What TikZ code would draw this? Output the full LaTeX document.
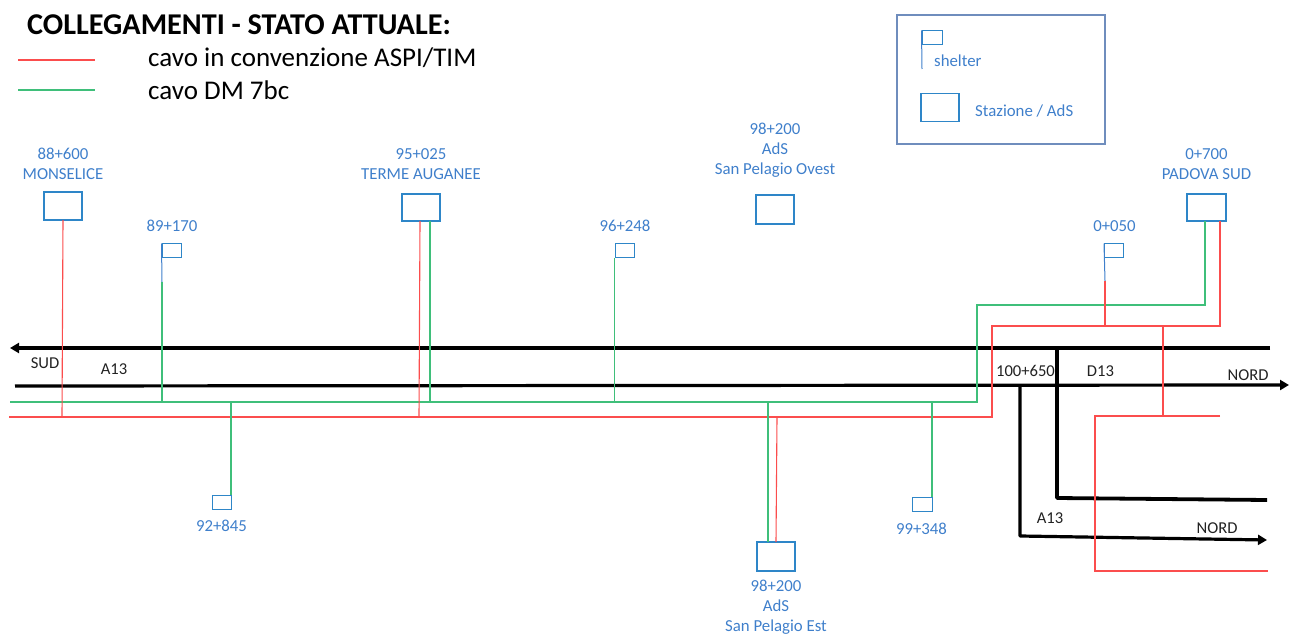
\documentclass[tikz,border=0pt]{standalone}
\usepackage{fontspec}
\setmainfont{Carlito}
\usetikzlibrary{arrows.meta}
\definecolor{bl}{HTML}{2E86C8}
\definecolor{lb}{HTML}{3F7FCB}
\definecolor{rd}{HTML}{FB4D4D}
\definecolor{gr}{HTML}{3FBF7A}
\definecolor{fr}{HTML}{6F8DBD}
\definecolor{tx}{HTML}{222222}
\tikzset{
 stbox/.style={draw=bl,line width=1.1pt,fill=white,inner sep=0pt,minimum width=38pt,minimum height=28pt},
 flagbox/.style={draw=bl,line width=1pt,fill=white,inner sep=0pt,minimum width=19pt,minimum height=14pt},
 lab/.style={text=lb,font=\fontsize{16.8}{20}\selectfont,align=center,inner sep=0pt},
 blk/.style={text=tx,font=\fontsize{16.6}{16}\selectfont,inner sep=0pt},
 leg/.style={text=black,font=\fontsize{27}{28}\selectfont,inner sep=0pt,anchor=west},
 redl/.style={draw=rd,line width=1.1pt},
 grnl/.style={draw=gr,line width=1.1pt},
 road/.style={draw=black,line width=3.2pt},
 pole/.style={draw=lb,line width=1pt},
 tip/.style={-{Triangle[length=9pt,width=10pt]}}
}
\begin{document}
\begin{tikzpicture}[x=1pt,y=-1pt]
\useasboundingbox (0,0) rectangle (1290,636);
% title and legend
\node[anchor=west,inner sep=0pt,font=\fontsize{30.2}{32}\bfseries\selectfont] (title) at (27,25) {COLLEGAMENTI - STATO ATTUALE:};
\coordinate (la) at (18,60); \coordinate (lb) at (95,60);
\coordinate (lc) at (18,90); \coordinate (ld) at (95,90);
\draw[redl] (la) -- (lb);
\draw[grnl] (lc) -- (ld);
\node[leg] (l1) at (148,58) {cavo in convenzione ASPI/TIM};
\node[leg] (l2) at (148,90) {cavo DM 7bc};
% key box
\node[draw=fr,line width=1.2pt,inner sep=0pt,minimum width=208pt,minimum height=129pt] (key) at (1001,79.5) {};
\node[flagbox,minimum width=20pt] (kf) at (932,38) {};
\coordinate (kp) at (922,69);
\draw[pole] (kf.north west) -- (kp);
\node[lab,anchor=west] (ks) at (934,61) {shelter};
\node[stbox] (kb) at (940,107.5) {};
\node[lab,anchor=west] (kt) at (975,111) {Stazione / AdS};
% roads
\coordinate (r1e) at (1270,348); \coordinate (r1w) at (10,348);
\coordinate (r2w) at (15,386); \coordinate (r2e) at (1289,385);
\draw[road,tip] (r1e) -- (r1w);
\draw[road,tip] (r2w) -- (r2e);
\coordinate (d1) at (1057,348); \coordinate (d2) at (1057,498); \coordinate (d3) at (1267,500);
\draw[road,line width=3.8pt,line join=round] (d1) -- (d2) -- (d3);
\coordinate (a1) at (1020,386); \coordinate (a2) at (1020,536); \coordinate (a3) at (1267,540);
\draw[road,line join=round,tip] (a1) -- (a2) -- (a3);
% stations
\node[stbox] (mon) at (63,206) {};
\node[stbox,minimum height=27pt] (ter) at (421,207.5) {};
\node[stbox,minimum height=29pt] (ovest) at (775,209.5) {};
\node[stbox,minimum height=27pt,minimum width=39pt] (pad) at (1206.5,207.5) {};
\node[stbox,minimum height=29pt] (est) at (776,556.5) {};
% shelters
\node[flagbox] (s1) at (171.5,251) {};
\node[flagbox] (s2) at (624.5,251) {};
\node[flagbox] (s3) at (1114,251) {};
\node[flagbox] (s4) at (221.5,502) {};
\node[flagbox,minimum width=20pt] (s5) at (922,504) {};
% junctions
\coordinate (g0) at (10,402); \coordinate (g1) at (977,402); \coordinate (g2) at (977,305);
\coordinate (r0) at (9,417); \coordinate (r1) at (992,417); \coordinate (r2) at (992,326);
\coordinate (pg) at (1205,221); \coordinate (pr) at (1220,221);
\draw[grnl] (g0) -- (g1) -- (g2) -- (pg |- g2) -- (pg);
\draw[redl] (r0) -- (r1) -- (r2) -- (pr |- r2) -- (pr);
% poles
\coordinate (p1) at (162,282); \coordinate (p3) at (1105,281);
\draw[pole] (s1.north west) -- (p1);
\draw[pole] (s3.north west) -- (p3);
% red branches
\coordinate (mont) at (63,220); \coordinate (mono) at (62,417);
\draw[redl] (mont) -- (mono);
\coordinate (tert) at (420,221); \coordinate (tero) at (419,417);
\draw[redl] (tert) -- (tero);
\draw[redl] (p3) -- (p3 |- r2);
\coordinate (estr) at (777,417); \coordinate (esrb) at (776,542);
\draw[redl] (estr) -- (esrb);
\coordinate (b0) at (1163,326); \coordinate (b1) at (1163,416); \coordinate (b2) at (1220,416);
\coordinate (b3) at (1095,416); \coordinate (b4) at (1095,571); \coordinate (b5) at (1268,571);
\draw[redl] (b0) -- (b1);
\draw[redl] (b2) -- (b3) -- (b4) -- (b5);
% green branches
\draw[grnl] (p1) -- (p1 |- g0);
\coordinate (tg) at (430,221);
\draw[grnl] (tg) -- (tg |- g0);
\coordinate (sg) at (614.5,258);
\draw[grnl] (sg) -- (sg |- g0);
\coordinate (s4g) at (231,495);
\draw[grnl] (s4g |- g0) -- (s4g);
\coordinate (eg) at (768,542);
\draw[grnl] (eg |- g0) -- (eg);
\coordinate (s5g) at (932,497);
\draw[grnl] (s5g |- g0) -- (s5g);
% labels
\node[lab] (t1) at (63,164) {88+600\\MONSELICE};
\node[lab] (t2) at (172,226) {89+170};
\node[lab] (t3) at (421,164.5) {95+025\\TERME AUGANEE};
\node[lab] (t4) at (625,226) {96+248};
\node[lab] (t5) at (775,150) {98+200\\AdS\\San Pelagio Ovest};
\node[lab] (t6) at (1114.5,226) {0+050};
\node[lab] (t7) at (1206.5,164.5) {0+700\\PADOVA SUD};
\node[lab] (t8) at (221.5,526) {92+845};
\node[lab] (t9) at (921.5,529) {99+348};
\node[lab] (t10) at (776,607) {98+200\\AdS\\San Pelagio Est};
\node[blk] (n1) at (45,363) {SUD};
\node[blk] (n2) at (114,369) {A13};
\node[blk] (n3) at (1025.5,371) {100+650};
\node[blk] (n4) at (1100.5,371) {D13};
\node[blk] (n5) at (1248,375) {NORD};
\node[blk] (n6) at (1050,518) {A13};
\node[blk] (n7) at (1217,528) {NORD};
\end{tikzpicture}
\end{document}
